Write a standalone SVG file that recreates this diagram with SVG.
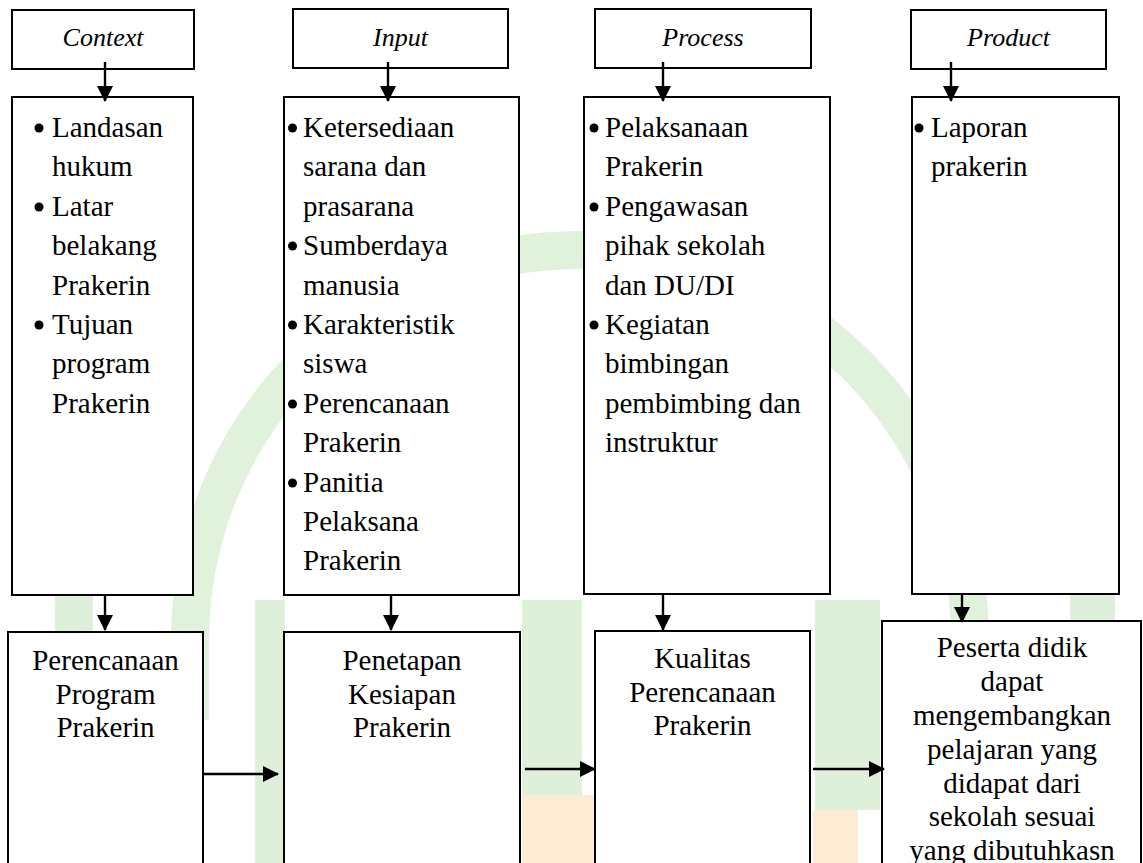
<svg xmlns="http://www.w3.org/2000/svg" width="1143" height="863" viewBox="0 0 1143 863">
<style>
.box{fill:#ffffff;stroke:#000000;stroke-width:2}
.lbl{font-family:"Liberation Serif","Times New Roman",serif;font-style:italic;font-size:26px;fill:#000;text-anchor:middle}
.body{font-family:"Liberation Serif","Times New Roman",serif;font-size:29px;fill:#000}
.ctr{font-family:"Liberation Serif","Times New Roman",serif;font-size:29px;fill:#000;text-anchor:middle}
.dot{fill:#000}
.wire{stroke:#000;stroke-width:2.4;fill:none}
.wm-g{fill:#dff0da}
.wm-o{fill:#fdebd3}
</style>
<defs>
<marker id="ah" markerUnits="userSpaceOnUse" markerWidth="16" markerHeight="16" viewBox="0 0 16 16" refX="15" refY="8" orient="auto">
<path d="M0,0 L16,8 L0,16 Z" fill="#000"/>
</marker>
</defs>
<rect width="1143" height="863" fill="#ffffff"/>
<g id="watermark">
<path d="M 190 720 L 190 640 A 390 390 0 0 1 970 640 L 970 720" fill="none" stroke="#e0f1dc" stroke-width="38"/>
<rect class="wm-g" x="55" y="595" width="38" height="268"/>
<rect class="wm-g" x="255" y="600" width="30" height="263"/>
<rect class="wm-g" x="522" y="600" width="60" height="200"/>
<rect class="wm-g" x="815" y="600" width="65" height="210"/>
<rect class="wm-g" x="1070" y="595" width="45" height="268"/>
<rect class="wm-o" x="522" y="795" width="72" height="68"/>
<rect class="wm-o" x="813" y="810" width="45" height="53"/>
</g>
<g id="label-context"><rect class="box" x="12" y="10" width="182" height="59"/><text class="lbl" x="103" y="46">Context</text></g>
<g id="label-input"><rect class="box" x="293" y="9" width="215" height="59"/><text class="lbl" x="400.5" y="46">Input</text></g>
<g id="label-process"><rect class="box" x="595" y="9" width="216" height="59"/><text class="lbl" x="703" y="46">Process</text></g>
<g id="label-product"><rect class="box" x="911" y="10" width="195" height="59"/><text class="lbl" x="1008.5" y="46">Product</text></g>
<g id="context-items">
<rect class="box" x="12" y="97" width="181" height="498"/>
<circle class="dot" cx="39" cy="128" r="4.5"/><circle class="dot" cx="39" cy="207" r="4.5"/><circle class="dot" cx="39" cy="325" r="4.5"/>
<text class="body"><tspan x="52" y="137">Landasan</tspan><tspan x="52" y="176">hukum</tspan><tspan x="52" y="216">Latar</tspan><tspan x="52" y="255">belakang</tspan><tspan x="52" y="295">Prakerin</tspan><tspan x="52" y="334">Tujuan</tspan><tspan x="52" y="373">program</tspan><tspan x="52" y="413">Prakerin</tspan></text>
</g>
<g id="input-items">
<rect class="box" x="284" y="97" width="235" height="498"/>
<circle class="dot" cx="292.5" cy="128" r="4.5"/><circle class="dot" cx="292.5" cy="246" r="4.5"/><circle class="dot" cx="292.5" cy="325" r="4.5"/><circle class="dot" cx="292.5" cy="404" r="4.5"/><circle class="dot" cx="292.5" cy="483" r="4.5"/>
<text class="body"><tspan x="303" y="137">Ketersediaan</tspan><tspan x="303" y="176">sarana dan</tspan><tspan x="303" y="216">prasarana</tspan><tspan x="303" y="255">Sumberdaya</tspan><tspan x="303" y="295">manusia</tspan><tspan x="303" y="334">Karakteristik</tspan><tspan x="303" y="373">siswa</tspan><tspan x="303" y="413">Perencanaan</tspan><tspan x="303" y="452">Prakerin</tspan><tspan x="303" y="492">Panitia</tspan><tspan x="303" y="531">Pelaksana</tspan><tspan x="303" y="570">Prakerin</tspan></text>
</g>
<g id="process-items">
<rect class="box" x="584" y="97" width="246" height="497"/>
<circle class="dot" cx="594" cy="128" r="4.5"/><circle class="dot" cx="594" cy="207" r="4.5"/><circle class="dot" cx="594" cy="325" r="4.5"/>
<text class="body"><tspan x="605" y="137">Pelaksanaan</tspan><tspan x="605" y="176">Prakerin</tspan><tspan x="605" y="216">Pengawasan</tspan><tspan x="605" y="255">pihak sekolah</tspan><tspan x="605" y="295">dan DU/DI</tspan><tspan x="605" y="334">Kegiatan</tspan><tspan x="605" y="373">bimbingan</tspan><tspan x="605" y="413">pembimbing dan</tspan><tspan x="605" y="452">instruktur</tspan></text>
</g>
<g id="product-items">
<rect class="box" x="912" y="97" width="207" height="497"/>
<circle class="dot" cx="919" cy="128" r="4.5"/>
<text class="body"><tspan x="931" y="137">Laporan</tspan><tspan x="931" y="176">prakerin</tspan></text>
</g>
<g id="result-context">
<rect class="box" x="8" y="632" width="195" height="250"/>
<text class="ctr"><tspan x="105.5" y="670">Perencanaan</tspan><tspan x="105.5" y="703.5">Program</tspan><tspan x="105.5" y="737">Prakerin</tspan></text>
</g>
<g id="result-input">
<rect class="box" x="284" y="632" width="236" height="250"/>
<text class="ctr"><tspan x="402" y="670">Penetapan</tspan><tspan x="402" y="703.5">Kesiapan</tspan><tspan x="402" y="737">Prakerin</tspan></text>
</g>
<g id="result-process">
<rect class="box" x="595" y="631" width="215" height="250"/>
<text class="ctr"><tspan x="702.5" y="668">Kualitas</tspan><tspan x="702.5" y="701.5">Perencanaan</tspan><tspan x="702.5" y="735">Prakerin</tspan></text>
</g>
<g id="result-product">
<rect class="box" x="882" y="621" width="259" height="260"/>
<text class="ctr"><tspan x="1012" y="657">Peserta didik</tspan><tspan x="1012" y="691">dapat</tspan><tspan x="1012" y="725">mengembangkan</tspan><tspan x="1012" y="759">pelajaran yang</tspan><tspan x="1012" y="793">didapat dari</tspan><tspan x="1012" y="826">sekolah sesuai</tspan><tspan x="1012" y="860">yang dibutuhkasn</tspan></text>
</g>
<g id="connectors">
<line class="wire" x1="105" y1="62" x2="105" y2="101" marker-end="url(#ah)"/>
<line class="wire" x1="388" y1="62" x2="388" y2="101" marker-end="url(#ah)"/>
<line class="wire" x1="663" y1="62" x2="663" y2="101" marker-end="url(#ah)"/>
<line class="wire" x1="951" y1="62" x2="951" y2="101" marker-end="url(#ah)"/>
<line class="wire" x1="105" y1="595" x2="105" y2="630" marker-end="url(#ah)"/>
<line class="wire" x1="391" y1="595" x2="391" y2="630" marker-end="url(#ah)"/>
<line class="wire" x1="663" y1="595" x2="663" y2="630" marker-end="url(#ah)"/>
<line class="wire" x1="962" y1="595" x2="962" y2="622" marker-end="url(#ah)"/>
<line class="wire" x1="203" y1="774" x2="278" y2="774" marker-end="url(#ah)"/>
<line class="wire" x1="525" y1="769" x2="595" y2="769" marker-end="url(#ah)"/>
<line class="wire" x1="813" y1="769" x2="884" y2="769" marker-end="url(#ah)"/>
</g>
</svg>
